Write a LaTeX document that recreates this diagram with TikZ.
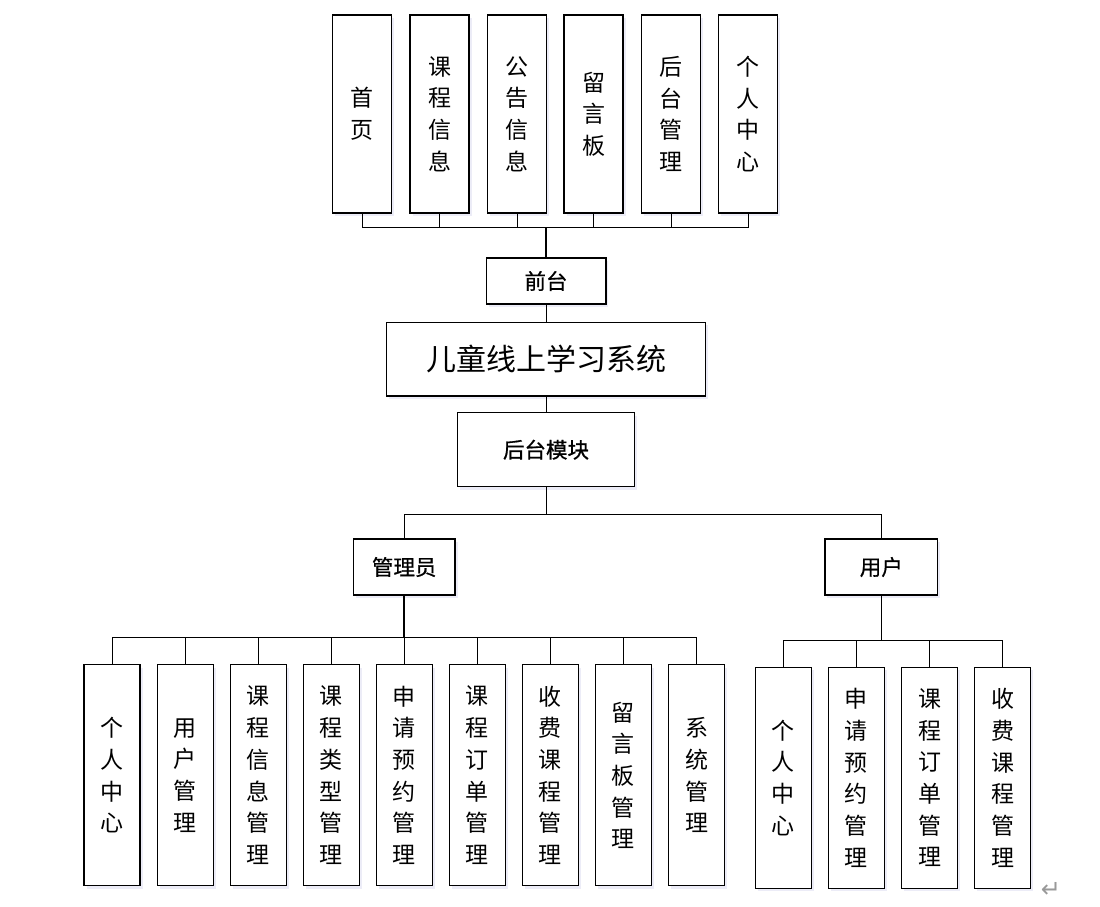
\documentclass[tikz,border=0pt]{standalone}
\usepackage{fontspec}
\setmainfont{Noto Sans CJK SC}
\newfontfamily\cjkmed{Noto Sans CJK SC}[FakeBold=0.7]
\newfontfamily\dejavu{DejaVu Sans}
\usetikzlibrary{shadows}
\begin{document}
\begin{tikzpicture}[x=1pt,y=-1pt,
  box/.style={draw, line width=1.3pt, fill=white, inner sep=0pt, align=center,
    font=\fontsize{23}{31.7}\selectfont,
    drop shadow={shadow xshift=2.5pt, shadow yshift=-3pt, fill=blue!40!gray!30, opacity=0.35}},
  topbox/.style={box, minimum width=59pt, minimum height=198pt},
  admbox/.style={box, minimum width=56pt, minimum height=221pt},
  midbox/.style={box, font=\cjkmed\fontsize{21.5}{24}\selectfont},
  conn/.style={line width=1pt},
  trunk/.style={line width=1.6pt}]
\useasboundingbox (0,0) rectangle (1100,906);

% top row
\node[topbox] (t1) at (362.3,114) {首\\页};
\node[topbox] (t2) at (439.5,114) {课\\程\\信\\息};
\node[topbox] (t3) at (517,114) {公\\告\\信\\息};
\node[topbox] (t4) at (593.5,114) {留\\言\\板};
\node[topbox] (t5) at (671,114) {后\\台\\管\\理};
\node[topbox] (t6) at (748.3,114) {个\\人\\中\\心};

% middle
\node[midbox, minimum width=119.7pt, minimum height=46pt] (qt) at (546,281) {前台};
\node[box, minimum width=319pt, minimum height=73.7pt, font=\fontsize{30}{34}\selectfont] (sys) at (546,359) {儿童线上学习系统};
\node[midbox, minimum width=176.6pt, minimum height=74pt] (ht) at (546,449.7) {后台模块};
\node[midbox, minimum width=101.7pt, minimum height=56pt] (gly) at (404.2,567) {管理员};
\node[midbox, minimum width=112.7pt, minimum height=56pt] (yh) at (881.3,567) {用户};

% admin children
\node[admbox] (a1) at (112,775.3) {个\\人\\中\\心};
\node[admbox] (a2) at (185.3,775.3) {用\\户\\管\\理};
\node[admbox] (a3) at (258.3,775.3) {课\\程\\信\\息\\管\\理};
\node[admbox] (a4) at (331.2,775.3) {课\\程\\类\\型\\管\\理};
\node[admbox] (a5) at (404.3,775.3) {申\\请\\预\\约\\管\\理};
\node[admbox] (a6) at (477.3,775.3) {课\\程\\订\\单\\管\\理};
\node[admbox] (a7) at (550.3,775.3) {收\\费\\课\\程\\管\\理};
\node[admbox] (a8) at (623.3,775.3) {留\\言\\板\\管\\理};
\node[admbox] (a9) at (696.5,775.3) {系\\统\\管\\理};

% user children
\node[admbox] (u1) at (783.2,777.8) {个\\人\\中\\心};
\node[admbox] (u2) at (856.3,777.8) {申\\请\\预\\约\\管\\理};
\node[admbox] (u3) at (929.7,777.8) {课\\程\\订\\单\\管\\理};
\node[admbox] (u4) at (1002.7,777.8) {收\\费\\课\\程\\管\\理};

\node[font=\dejavu\fontsize{24}{24}\selectfont, text=gray!80] (ret) at (1051,890) {↵};

% buses
\coordinate (tbus) at (546,227.7);
\coordinate (mbus) at (546,514);
\coordinate (abus) at (404.2,637.3);
\coordinate (ubus) at (881.3,640);

\draw[conn] (t1.south) -- (t1.south |- tbus) -- (t6.south |- tbus) -- (t6.south);
\foreach \n in {t2,t3,t4,t5} \draw[conn] (\n.south) -- (\n.south |- tbus);
\draw[trunk] (tbus) -- (qt.north);
\draw[conn] (qt.south) -- (sys.north);
\draw[conn] (sys.south) -- (ht.north);
\draw[conn] (ht.south) -- (mbus);
\draw[conn] (gly.north) -- (gly.north |- mbus) -- (yh.north |- mbus) -- (yh.north);

\draw[conn] (a1.north) -- (a1.north |- abus) -- (a9.north |- abus) -- (a9.north);
\foreach \n in {a2,a3,a4,a5,a6,a7,a8} \draw[conn] (\n.north) -- (\n.north |- abus);
\draw[trunk] (gly.south) -- (abus);

\draw[conn] (u1.north) -- (u1.north |- ubus) -- (u4.north |- ubus) -- (u4.north);
\foreach \n in {u2,u3} \draw[conn] (\n.north) -- (\n.north |- ubus);
\draw[trunk] (yh.south) -- (ubus);
\end{tikzpicture}
\end{document}
